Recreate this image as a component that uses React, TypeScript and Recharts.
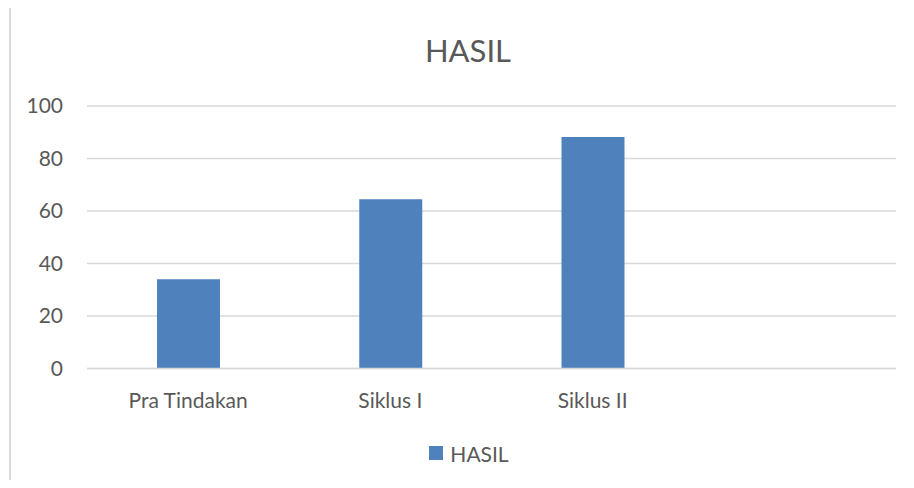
import { BarChart, Bar, XAxis, YAxis, CartesianGrid, Legend } from "recharts";

const categories = ["Pra Tindakan", "Siklus I", "Siklus II", ""];
const hasil: (number | null)[] = [34, 64.5, 88.2, null];
const yTicks = [0, 20, 40, 60, 80, 100];

const data = categories.map((name, i) => ({ name, HASIL: hasil[i] }));

const FONT = "Lato, 'Open Sans', sans-serif";
const TEXT = "#595959";
const GRID = "#d9d9d9";
const BLUE = "#4f81bd";

const renderLegend = () => (
  <div
    style={{
      display: "flex",
      justifyContent: "center",
      alignItems: "center",
      fontFamily: FONT,
      fontSize: 21,
      color: TEXT,
      height: 24,
      paddingLeft: 24,
    }}
  >
    <span
      style={{
        display: "inline-block",
        width: 14,
        height: 14,
        background: BLUE,
        marginRight: 7,
      }}
    />
    HASIL
  </div>
);

export default function App() {
  return (
    <div
      style={{
        position: "relative",
        width: 914,
        height: 488,
        margin: -8,
        overflow: "hidden",
        background: "#fff",
      }}
    >
      <div
        style={{
          position: "absolute",
          left: 9,
          top: 6,
          width: 940,
          height: 520,
          border: `2px solid ${GRID}`,
        }}
      />
      <div style={{ position: "absolute", left: 0, top: 0 }}>
        <BarChart
          width={914}
          height={488}
          data={data}
          margin={{ top: 106, right: 18, bottom: 0, left: 10 }}
        >
          <text
            x={468}
            y={62}
            textAnchor="middle"
            fontFamily={FONT}
            fontSize={31}
            fill={TEXT}
          >
            HASIL
          </text>
          <CartesianGrid vertical={false} stroke={GRID} strokeWidth={1.5} />
          <XAxis
            dataKey="name"
            height={95.5}
            tickLine={false}
            axisLine={{ stroke: GRID, strokeWidth: 1.5 }}
            tickSize={0}
            tickMargin={25}
            tick={{ fill: TEXT, fontSize: 21, fontFamily: FONT }}
          />
          <YAxis
            width={77}
            domain={[0, 100]}
            ticks={yTicks}
            axisLine={false}
            tickLine={false}
            tickSize={0}
            tickMargin={24}
            tick={{ fill: TEXT, fontSize: 21, fontFamily: FONT }}
          />
          <Legend
            content={renderLegend}
            wrapperStyle={{ position: "absolute", top: 441, left: 0, width: 914 }}
          />
          <Bar dataKey="HASIL" fill={BLUE} barSize={63} isAnimationActive={false} />
        </BarChart>
      </div>
    </div>
  );
}
